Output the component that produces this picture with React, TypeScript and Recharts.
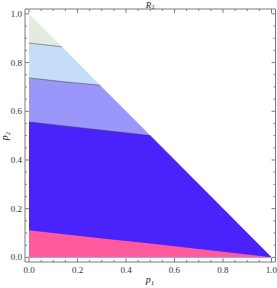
import { ComposedChart, Area, Line, XAxis, YAxis } from 'recharts';

// breakpoints along p1 where a band edge meets the hypotenuse p1 + p2 = 1
const P1 = [0, 0.135, 0.293, 0.5, 1];

// upper edge of every band (each band is filled from 0 up to its edge)
const MINT_TOP = [1, 0.865, 0.707, 0.5, 0];
const SKY_TOP = [0.88, 0.865, 0.707, 0.5, 0];
const VIOLET_TOP = [0.737, 0.722, 0.707, 0.5, 0];
const BLUE_TOP = [0.556, 0.541, 0.523, 0.5, 0];
const PINK_TOP = [0.111, 0.096, 0.079, 0.057, 0];

// contour lines (inside the triangle only)
const C_SKY = [0.88, 0.865, null, null, null];
const C_VIOLET = [0.737, 0.722, 0.707, null, null];
const C_BLUE = [0.556, 0.541, 0.523, 0.5, null];

const TICKS = [
  0, 0.05, 0.1, 0.15, 0.2, 0.25, 0.3, 0.35, 0.4, 0.45, 0.5,
  0.55, 0.6, 0.65, 0.7, 0.75, 0.8, 0.85, 0.9, 0.95, 1,
];

const data = P1.map((p1, i) => ({
  p1,
  mint: MINT_TOP[i],
  sky: SKY_TOP[i],
  violet: VIOLET_TOP[i],
  blue: BLUE_TOP[i],
  pink: PINK_TOP[i],
  cSky: C_SKY[i],
  cViolet: C_VIOLET[i],
  cBlue: C_BLUE[i],
}));

const FRAME = '#7a7a7a';
const FONT = '"Liberation Serif", "DejaVu Serif", serif';

const isMajor = (v: number) => Math.abs(v * 5 - Math.round(v * 5)) < 1e-6;

const makeTick = (side: 'bottom' | 'left' | 'top' | 'right') => (props: any) => {
  const { x, y, payload } = props;
  const v = payload.value as number;
  const len = isMajor(v) ? 4 : 2;
  let line;
  if (side === 'bottom') line = <line x1={x} y1={y} x2={x} y2={y - len} stroke={FRAME} />;
  else if (side === 'top') line = <line x1={x} y1={y} x2={x} y2={y + len} stroke={FRAME} />;
  else if (side === 'left') line = <line x1={x} y1={y} x2={x + len} y2={y} stroke={FRAME} />;
  else line = <line x1={x} y1={y} x2={x - len} y2={y} stroke={FRAME} />;
  let label = null;
  if (isMajor(v) && side === 'bottom') {
    label = (
      <text x={x} y={y + 11} textAnchor="middle" fontSize={9} fill="#333" fontFamily={FONT}>
        {v.toFixed(1)}
      </text>
    );
  }
  if (isMajor(v) && side === 'left') {
    label = (
      <text x={x - 3} y={y + 3} textAnchor="end" fontSize={9} fill="#333" fontFamily={FONT}>
        {v.toFixed(1)}
      </text>
    );
  }
  return (
    <g>
      {line}
      {label}
    </g>
  );
};

export default function App() {
  return (
    <div style={{ position: 'absolute', left: 0, top: 0, width: 277, height: 288, background: '#fff' }}>
      <ComposedChart
        width={277}
        height={288}
        data={data}
        margin={{ top: 8, right: 0.5, bottom: 6, left: 3 }}
      >
        <XAxis
          dataKey="p1"
          type="number"
          domain={[-0.0165, 1.0165]}
          allowDataOverflow
          ticks={TICKS}
          interval={0}
          height={20}
          tickSize={0}
          tickMargin={0}
          tickLine={false}
          axisLine={{ stroke: FRAME }}
          tick={makeTick('bottom')}
        />
        <XAxis
          xAxisId="top"
          orientation="top"
          dataKey="p1"
          type="number"
          domain={[-0.0165, 1.0165]}
          allowDataOverflow
          ticks={TICKS}
          interval={0}
          height={1}
          tickSize={0}
          tickMargin={0}
          tickLine={false}
          axisLine={{ stroke: FRAME }}
          tick={makeTick('top')}
        />
        <YAxis
          type="number"
          domain={[-0.019, 1.02]}
          allowDataOverflow
          ticks={TICKS}
          interval={0}
          width={22}
          tickSize={0}
          tickMargin={0}
          tickLine={false}
          axisLine={{ stroke: FRAME }}
          tick={makeTick('left')}
        />
        <YAxis
          yAxisId="right"
          orientation="right"
          type="number"
          domain={[-0.019, 1.02]}
          allowDataOverflow
          ticks={TICKS}
          interval={0}
          width={1}
          tickSize={0}
          tickMargin={0}
          tickLine={false}
          axisLine={{ stroke: FRAME }}
          tick={makeTick('right')}
        />
        <Area type="linear" dataKey="mint" fill="#e3ebe0" fillOpacity={1} stroke="none" isAnimationActive={false} />
        <Area type="linear" dataKey="sky" fill="#c5ddf9" fillOpacity={1} stroke="none" isAnimationActive={false} />
        <Area type="linear" dataKey="violet" fill="#9a96fa" fillOpacity={1} stroke="none" isAnimationActive={false} />
        <Area type="linear" dataKey="blue" fill="#4a22fb" fillOpacity={1} stroke="none" isAnimationActive={false} />
        <Area type="linear" dataKey="pink" fill="#ff5a9c" fillOpacity={1} stroke="none" isAnimationActive={false} />
        <Line type="linear" dataKey="cSky" stroke="#333" strokeOpacity={0.6} strokeWidth={0.8} dot={false} isAnimationActive={false} />
        <Line type="linear" dataKey="cViolet" stroke="#333" strokeOpacity={0.6} strokeWidth={0.8} dot={false} isAnimationActive={false} />
        <Line type="linear" dataKey="cBlue" stroke="#333" strokeOpacity={0.6} strokeWidth={0.8} dot={false} isAnimationActive={false} />
        <text x={150} y={8} textAnchor="middle" fontSize={9} fill="#222" fontFamily={FONT}>
          <tspan fontStyle="italic">R</tspan>
          <tspan fontSize={6.5} dy={1}>2</tspan>
        </text>
        <text x={150} y={283} textAnchor="middle" fontSize={10} fill="#222" fontFamily={FONT}>
          <tspan fontStyle="italic">p</tspan>
          <tspan fontSize={7} dy={2}>1</tspan>
        </text>
        <text x={8} y={136} textAnchor="middle" fontSize={10} fill="#222" fontFamily={FONT} transform="rotate(-90 8 136)">
          <tspan fontStyle="italic">p</tspan>
          <tspan fontSize={7} dy={2}>2</tspan>
        </text>
      </ComposedChart>
    </div>
  );
}
